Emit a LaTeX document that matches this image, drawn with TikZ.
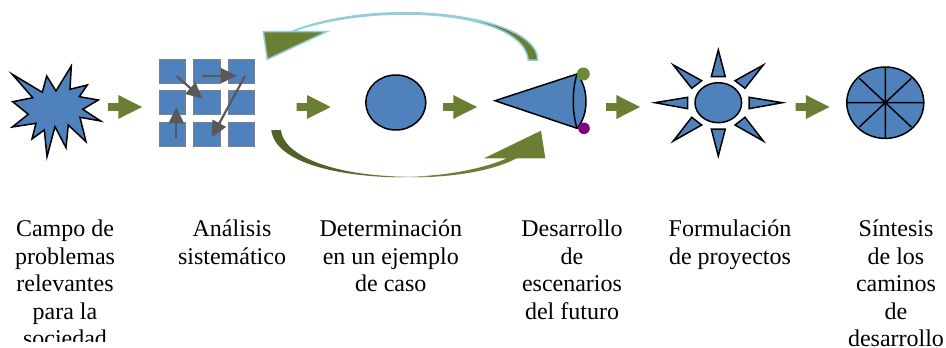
\documentclass[tikz,border=0pt]{standalone}
\usepackage{fontspec}
\setmainfont{Liberation Serif}
\usetikzlibrary{arrows.meta}
\definecolor{fillblue}{HTML}{4F81BD}
\definecolor{olive}{HTML}{6A7F33}
\definecolor{darkolive}{HTML}{4F6228}
\definecolor{aqua}{HTML}{93CDDD}
\definecolor{gridgray}{HTML}{7F7F7F}
\definecolor{arrgray}{HTML}{595959}
\definecolor{dotgreen}{HTML}{6B8A36}
\definecolor{dotpurple}{HTML}{800080}
\pgfdeclarehorizontalshading{oliveband}{100bp}{color(0bp)=(darkolive);color(25bp)=(darkolive);color(36bp)=(darkolive);color(46bp)=(olive);color(50bp)=(olive!30);color(54bp)=(olive);color(100bp)=(olive)}
\tikzset{
  shapeblue/.style={fill=fillblue,draw=black,line width=1.5pt,line join=miter},
  gridcell/.style={fill=fillblue,draw=gridgray,line width=0.8pt},
  gridarrow/.style={draw=arrgray,fill=arrgray,line width=2.2pt,-{Triangle[length=16pt,width=15pt]}},
  blockarrow/.pic={\fill[olive] (0,-3.8)--(10.3,-3.8)--(10.3,-12)--(34,0)--(10.3,12)--(10.3,3.8)--(0,3.8)--cycle;},
  caption/.style={align=center,font=\fontsize{24}{27.5}\selectfont,anchor=north,inner sep=0pt},
}
\begin{document}
\begin{tikzpicture}[x=1pt,y=-1pt]
\useasboundingbox (0,0) rectangle (946,348);
\clip (0,0) rectangle (946,348);
% star
\draw[shapeblue] (12.3,74.3)--(42.3,92.3)--(46.7,76)--(56,91)--(71.3,66)--(70,89.3)--(87.3,85)--(79.3,96.7)--(98.3,100)--(82.7,109.3)--(100.7,121)--(80,117.3)--(86,141.7)--(68.3,125)--(66,147.7)--(55,126.7)--(47,156.7)--(44.3,130)--(32,139)--(36,123.3)--(12.3,127)--(28.3,114.3)--(12.7,101.7)--(32.7,97.7)--cycle;
% block arrows
\foreach \bx in {108,296.7,443,606,795.5}{\pic at (\bx,107) {blockarrow};}
% grid
\foreach \cx/\cw in {159.3/26.4,193.7/26.3,228/26.3}{
  \foreach \cy/\ch in {59.7/23.6,90.7/24,122.3/23.7}{
    \draw[gridcell] (\cx,\cy) rectangle ++(\cw,\ch);
  }
}
\coordinate (g1s) at (176.7,76); \coordinate (g1e) at (202.3,98.7);
\coordinate (g2s) at (202.3,75.7); \coordinate (g2e) at (236.7,75.7);
\coordinate (g3s) at (245,76); \coordinate (g3e) at (211.7,137.3);
\coordinate (g4s) at (176.3,137.7); \coordinate (g4e) at (176.3,107.3);
\draw[gridarrow] (g1s)--(g1e);
\draw[gridarrow] (g2s)--(g2e);
\draw[gridarrow] (g3s)--(g3e);
\draw[gridarrow] (g4s)--(g4e);
% upper curved arrow
\draw[fill=olive,draw=aqua,line width=1.5pt,line join=miter]
  (537.7,60) .. controls (537.7,30) and (470,12.7) .. (405,12.7)
  .. controls (360,12.7) and (320,20) .. (291,31.7)
  -- (326.7,31.7) -- (267.3,59.3) -- (263.3,31.7) -- (291,31.7)
  .. controls (320,21.5) and (360,14) .. (405,14)
  .. controls (470,14) and (525,30) .. (528.3,60) -- cycle;
% lower curved arrow
\shade[shading=oliveband]
  (271.3,130) .. controls (275,163) and (340,177.5) .. (407,177.5)
  .. controls (450,177.5) and (490,172) .. (516.7,158.3)
  -- (545.3,158.3) -- (541,130.7) -- (484,158.3) -- (507,158.3)
  .. controls (480,170) and (440,176.5) .. (407,176.5)
  .. controls (345,176.5) and (285,160) .. (280.7,130) -- cycle;
% centre circle
\draw[shapeblue] (395.8,102.5) ellipse [x radius=30,y radius=27.5];
% cone
\draw[shapeblue] (495,100.7)--(577,74) .. controls (589,88) and (589,115) .. (577,128.3)--cycle;
\draw[black,line width=1.5pt] (577,74) .. controls (572,90) and (572,112) .. (577,128.3);
\fill[dotgreen] (583.3,74) circle [radius=6.5];
\fill[dotpurple] (584,128.3) circle [radius=5.8];
% sun
\draw[shapeblue] (718.3,102.7) ellipse [x radius=23.3,y radius=20];
\foreach \a/\b/\c/\d/\e/\f in {
 718.3/50/725.3/76.7/711.3/76.7,
 782.3/102.7/749/97.3/749/108.7,
 718.3/156/711.3/129/725.3/129,
 655/102.7/687.7/97.3/687.7/108.7,
 763.3/65/735/80.7/745/88.3,
 763.3/141/735/125/745/117.3,
 673.3/65/701.7/80.7/691.7/88.3,
 673.3/141/701.7/125/691.7/117.3}{
  \draw[shapeblue] (\a,\b)--(\c,\d)--(\e,\f)--cycle;
}
% pie
\draw[shapeblue] (885.3,102.7) ellipse [x radius=38.5,y radius=35.7];
\draw[black,line width=1.5pt] (846.8,102.7)--(923.8,102.7) (885.3,67)--(885.3,138.4)
  (859.3,78.3)--(911.3,127) (911.3,78.3)--(859.3,127);
% captions
\node[caption] (t1) at (65,220) {Campo de\\problemas\\relevantes\\para la\\sociedad};
\fill[white] (0,342.3) rectangle (130,348);
\node[caption] (t2) at (232,220) {Análisis\\sistemático};
\node[caption] (t3) at (390.8,220) {Determinación\\en un ejemplo\\de caso};
\node[caption] (t4) at (572,220) {Desarrollo\\de\\escenarios\\del futuro};
\node[caption] (t5) at (730,220) {Formulación\\de proyectos};
\node[caption] (t6) at (896,220) {Síntesis\\de los\\caminos\\de\\desarrollo};
\end{tikzpicture}
\end{document}
